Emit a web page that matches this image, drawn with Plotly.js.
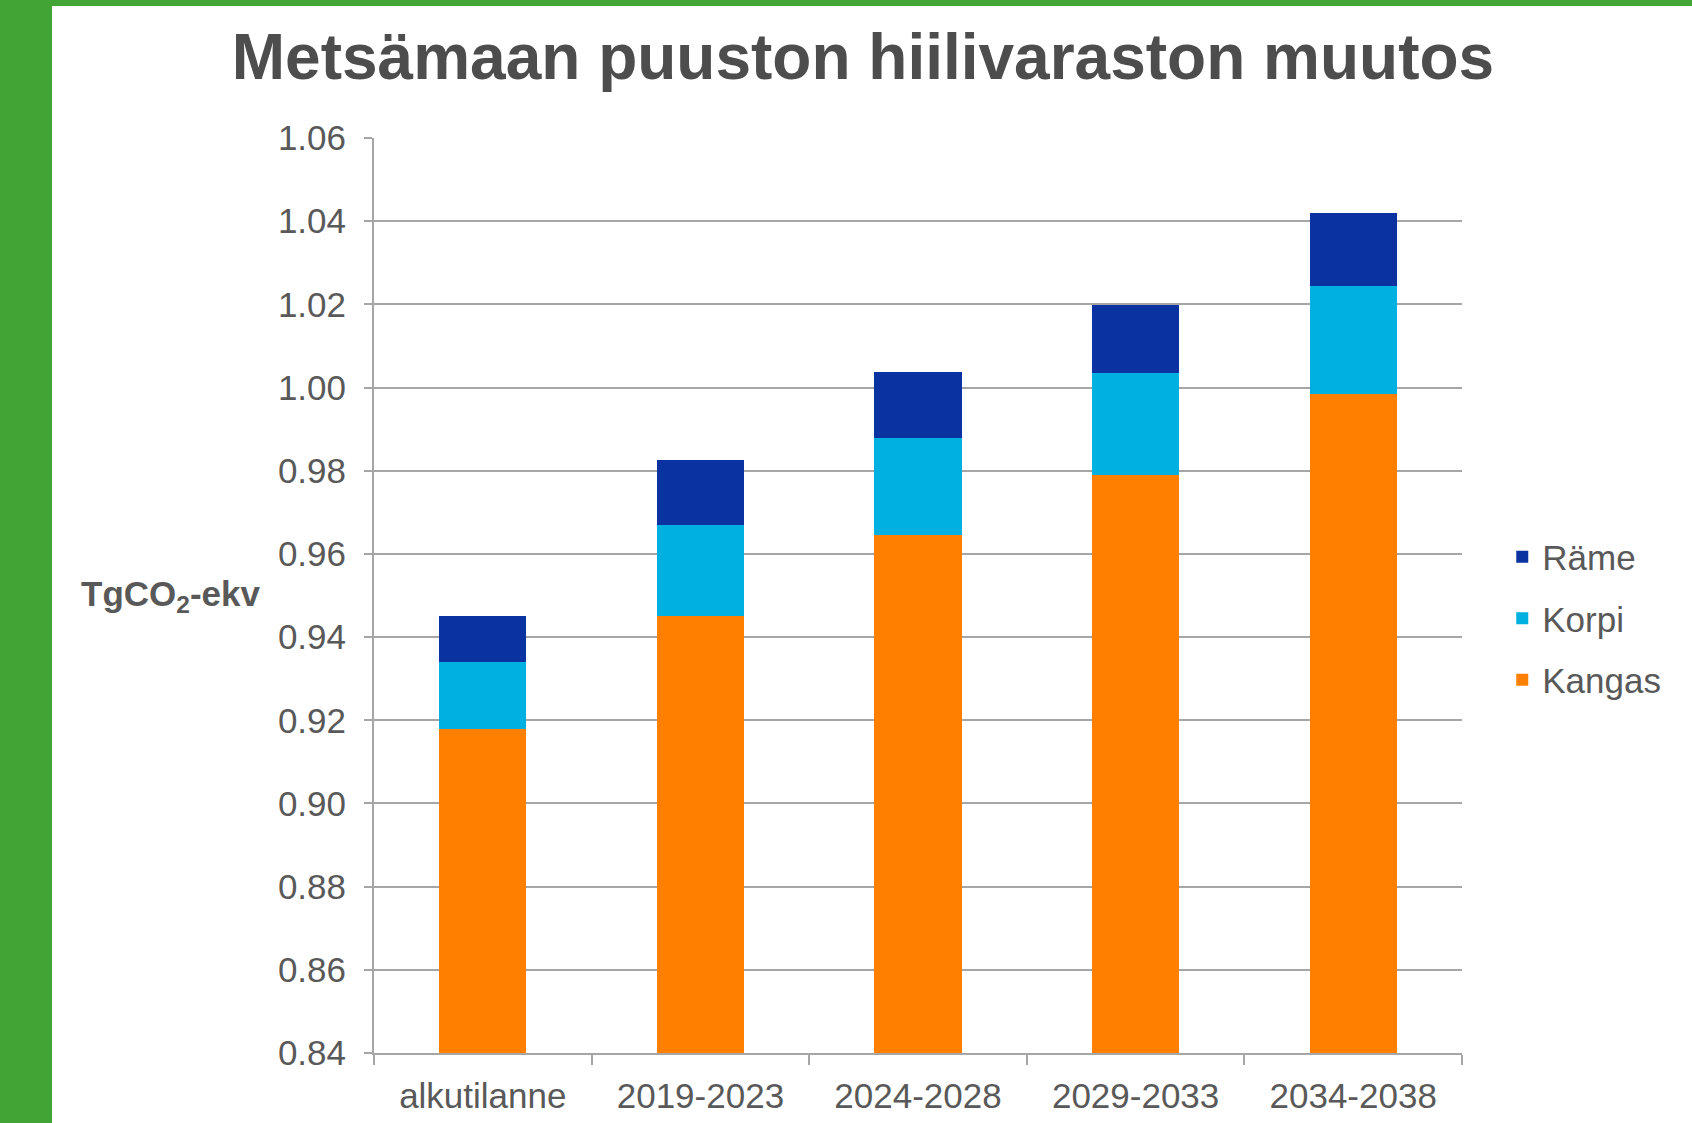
<!DOCTYPE html>
<html>
<head>
<meta charset="utf-8">
<script src="https://cdn.plot.ly/plotly-3.0.1.min.js"></script>
<style>
  html, body { margin: 0; padding: 0; width: 1692px; height: 1123px; background: #40a535; overflow: hidden; }
  #chart { position: absolute; left: 52px; top: 6px; width: 1640px; height: 1117px; background: #ffffff; }
</style>
</head>
<body>
<div id="chart"></div>
<script>
const categories = ["alkutilanne", "2019-2023", "2024-2028", "2029-2033", "2034-2038"];
const kangas = [0.918, 0.945, 0.9645, 0.979, 0.9985];
const korpi  = [0.016, 0.022, 0.0234, 0.0245, 0.026];
const rame   = [0.011, 0.0155, 0.0158, 0.0164, 0.0174];
const yTicks = [0.84, 0.86, 0.88, 0.90, 0.92, 0.94, 0.96, 0.98, 1.00, 1.02, 1.04, 1.06];

const FONT = "Liberation Sans, Arial, sans-serif";
const GREY = "#595959";

const traces = [
  { type: "bar", name: "Kangas", legendgroup: "g1", legendrank: 3, x: categories, y: kangas, marker: { color: "#ff8000" } },
  { type: "bar", name: "Korpi",  legendgroup: "g2", legendrank: 2, x: categories, y: korpi,  marker: { color: "#00b0e0" } },
  { type: "bar", name: "Räme",   legendgroup: "g3", legendrank: 1, x: categories, y: rame,   marker: { color: "#0a32a0" } }
];

const layout = {
  width: 1640, height: 1117,
  paper_bgcolor: "#ffffff", plot_bgcolor: "#ffffff",
  margin: { l: 322, r: 230, t: 132, b: 70 },
  barmode: "stack",
  bargap: 0.6,
  showlegend: true,
  font: { family: FONT, color: GREY },
  title: {
    text: "Metsämaan puuston hiilivaraston muutos",
    font: { family: FONT, size: 64, color: "#4d4d4d", weight: "bold" },
    xref: "container", yref: "container",
    x: 0.4945, xanchor: "center", y: 0.955, yanchor: "middle"
  },
  xaxis: {
    type: "category",
    showline: true, linecolor: "#a6a6a6", linewidth: 2,
    ticks: "outside", tickson: "boundaries", ticklen: 10, tickcolor: "#a6a6a6", tickwidth: 2,
    tickfont: { family: FONT, size: 35, color: GREY },
    ticklabelstandoff: 11,
    showgrid: false
  },
  yaxis: {
    range: [0.84, 1.06],
    tickmode: "array", tickvals: yTicks, ticktext: yTicks.map(v => v.toFixed(2)),
    showline: true, linecolor: "#a6a6a6", linewidth: 2,
    ticks: "outside", ticklen: 8, tickcolor: "#a6a6a6", tickwidth: 2,
    showgrid: true, gridcolor: "#a6a6a6", gridwidth: 2,
    zeroline: false,
    tickfont: { family: FONT, size: 35, color: GREY },
    ticklabelstandoff: 11
  },
  legend: {
    x: 1.037, xanchor: "left", y: 0.475, yanchor: "middle",
    traceorder: "grouped",
    font: { family: FONT, size: 35, color: GREY },
    bgcolor: "rgba(0,0,0,0)",
    tracegroupgap: 13,
    itemwidth: 30
  },
  annotations: [
    {
      text: "<b>TgCO<sub>2</sub>-ekv</b>",
      xref: "paper", yref: "paper", x: -0.1875, y: 0.5,
      xanchor: "center", yanchor: "middle", showarrow: false,
      font: { family: FONT, size: 35, color: GREY }
    }
  ]
};

Plotly.newPlot("chart", traces, layout, { displayModeBar: false, responsive: false });
</script>
</body>
</html>
